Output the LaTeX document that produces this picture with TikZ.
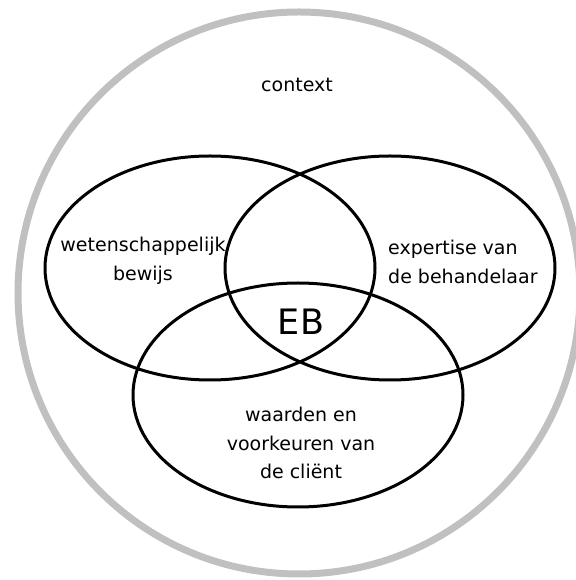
\documentclass[tikz,border=0pt]{standalone}
\usepackage{fontspec}
\setmainfont{DejaVu Sans}
\usetikzlibrary{shapes.geometric}
\definecolor{ringgray}{RGB}{192,192,192}
\begin{document}
\begin{tikzpicture}[line join=bevel,
  lens/.style={ellipse,draw=black,line width=3bp,minimum width=330bp,minimum height=224bp,inner sep=0pt},
  lbl/.style={inner sep=0pt,font=\fontsize{19bp}{28.5bp}\selectfont},
]
%%
\useasboundingbox (0bp,0bp) rectangle (576bp,580bp);
\clip (0bp,0bp) rectangle (576bp,580bp);
\node (node_ring) at (299bp,287bp) [circle,draw=ringgray,line width=7bp,minimum size=562bp,inner sep=0pt] {};
%
\node (node_left) at (210bp,312bp) [lens] {};
  \node (node_right) at (390bp,312bp) [lens] {};
  \node (node_bottom) at (298bp,185bp) [lens] {};
%
\node (node_context) at (297bp,495bp) [lbl] {context};
  \node (node_bewijs) at (143bp,319bp) [lbl,align=center] {wetenschappelijk\\bewijs};
  \node (node_expertise) at (388bp,318bp) [lbl,align=left,anchor=west] {expertise van\\de behandelaar};
  \node (node_client) at (301bp,137bp) [lbl,align=center] {waarden en\\voorkeuren van\\de cliënt};
  \node (node_eb) at (301bp,258bp) [inner sep=0pt,font=\fontsize{35bp}{40bp}\selectfont] {EB};
%
\end{tikzpicture}
\end{document}
